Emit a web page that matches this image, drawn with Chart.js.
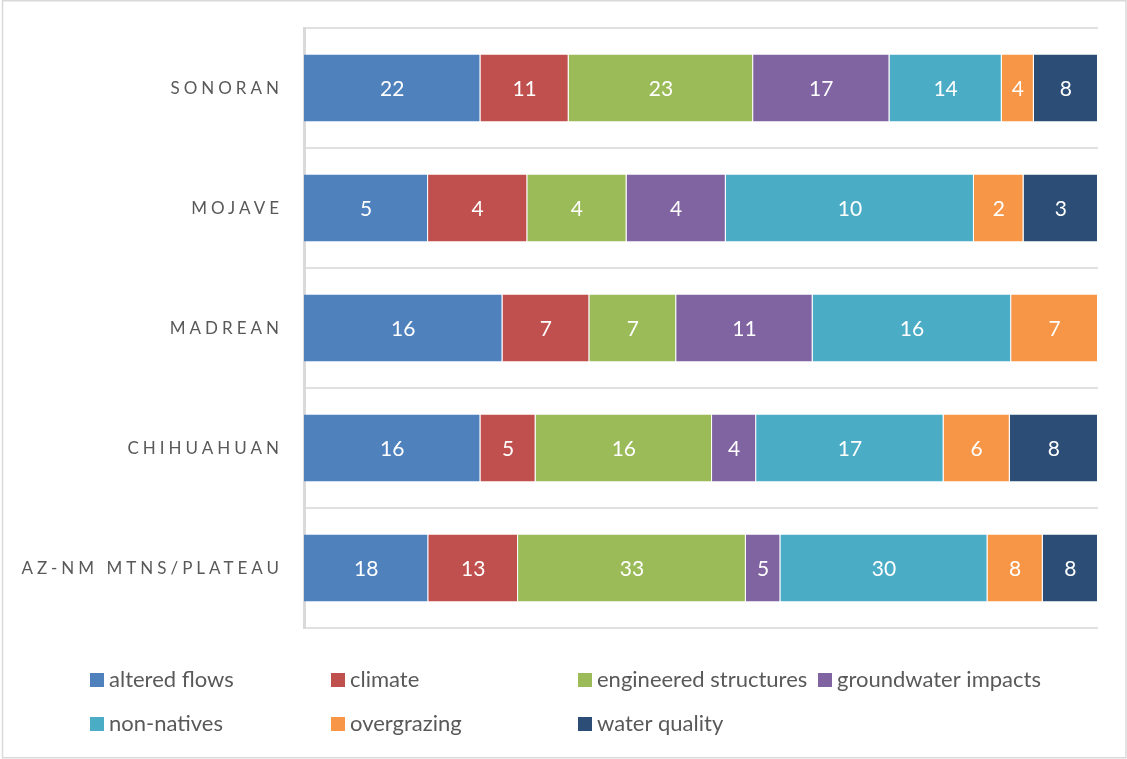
<!DOCTYPE html>
<html>
<head>
<meta charset="utf-8">
<script src="https://cdn.jsdelivr.net/npm/chart.js@4"></script>
<style>
    html, body { margin: 0; padding: 0; background: #fff; }
    canvas { display: block; }
</style>
</head>
<body>
<canvas id="threatChart" width="1127" height="759"></canvas>
<script>
// ecoregions, top to bottom
const regions = ['SONORAN', 'MOJAVE', 'MADREAN', 'CHIHUAHUAN', 'AZ-NM MTNS/PLATEAU'];

// counts per threat type, one per region
const alteredFlows = [22, 5, 16, 16, 18];
const climate = [11, 4, 7, 5, 13];
const engineeredStructures = [23, 4, 7, 16, 33];
const groundwaterImpacts = [17, 4, 11, 4, 5];
const nonNatives = [14, 10, 16, 17, 30];
const overgrazing = [4, 2, 7, 6, 8];
const waterQuality = [8, 3, 0, 8, 8];

const threatNames = ['altered flows', 'climate', 'engineered structures', 'groundwater impacts',
    'non-natives', 'overgrazing', 'water quality'];
const threatCounts = [alteredFlows, climate, engineeredStructures, groundwaterImpacts,
    nonNatives, overgrazing, waterQuality];
const threatColors = ['#4F81BD', '#C0504D', '#9BBB59', '#8064A2', '#4BACC6', '#F79646', '#2C4D75'];

const textGrey = '#595959';
const lineGrey = '#d9d9d9';

// each bar is shown as share of the region total
const totals = regions.map((_, i) => threatCounts.reduce((s, arr) => s + arr[i], 0));

const datasets = threatNames.map((name, k) => ({
    label: name,
    counts: threatCounts[k],
    data: threatCounts[k].map((v, i) => v / totals[i] * 100),
    backgroundColor: threatColors[k],
    borderColor: 'rgba(255,255,255,0.55)',
    borderWidth: { top: 0, bottom: 0, left: 0, right: 1 },
    borderSkipped: false,
    categoryPercentage: 1,
    barPercentage: 0.56
}));

// white counts in the middle of each segment
const segmentLabels = {
    id: 'segmentLabels',
    afterDatasetsDraw(chart) {
        const ctx = chart.ctx;
        ctx.save();
        ctx.font = '21px Lato';
        ctx.fillStyle = '#fff';
        ctx.textAlign = 'center';
        ctx.textBaseline = 'middle';
        chart.data.datasets.forEach((ds, k) => {
            chart.getDatasetMeta(k).data.forEach((bar, i) => {
                const v = ds.counts[i];
                if (!v) return;
                const p = bar.getProps(['x', 'y', 'base'], true);
                ctx.fillText(String(v), (p.x + p.base) / 2, p.y + 1);
            });
        });
        ctx.restore();
    }
};

// spaced caps region names, legend grid and outer frame
const decorations = {
    id: 'decorations',
    afterDraw(chart) {
        const ctx = chart.ctx;
        const yScale = chart.scales.y;
        ctx.save();

        ctx.font = '17px Lato';
        ctx.fillStyle = textGrey;
        ctx.textAlign = 'right';
        ctx.textBaseline = 'middle';
        ctx.letterSpacing = '4px';
        regions.forEach((r, i) => {
            ctx.fillText(r, chart.chartArea.left - 21, yScale.getPixelForValue(i) + 1);
        });
        ctx.letterSpacing = '0px';

        const colX = [90, 331, 578, 818];
        const rowY = [680, 724];
        ctx.font = '22px Lato';
        ctx.textAlign = 'left';
        threatNames.forEach((name, k) => {
            const x = colX[k < 4 ? k : k - 4];
            const y = rowY[k < 4 ? 0 : 1];
            ctx.fillStyle = threatColors[k];
            ctx.fillRect(x, y - 7, 14, 14);
            ctx.fillStyle = textGrey;
            ctx.fillText(name, x + 19, y);
        });

        ctx.strokeStyle = lineGrey;
        ctx.lineWidth = 1.5;
        ctx.strokeRect(2.5, 0.75, 1123.5, 757);
        ctx.restore();
    }
};

new Chart(document.getElementById('threatChart'), {
    type: 'bar',
    data: { labels: regions, datasets: datasets },
    options: {
        indexAxis: 'y',
        responsive: false,
        animation: false,
        layout: { padding: { left: 0, top: 28, right: 29, bottom: 131 } },
        plugins: {
            legend: { display: false },
            tooltip: { enabled: false }
        },
        scales: {
            x: {
                stacked: true,
                min: 0,
                max: 100,
                display: false
            },
            y: {
                stacked: true,
                afterFit(scale) { scale.width = 304; },
                ticks: { display: false },
                grid: {
                    offset: true,
                    drawTicks: false,
                    color: '#e0e0e0',
                    lineWidth: 2
                },
                border: { display: true, color: lineGrey, width: 3 }
            }
        }
    },
    plugins: [segmentLabels, decorations]
});
</script>
</body>
</html>
